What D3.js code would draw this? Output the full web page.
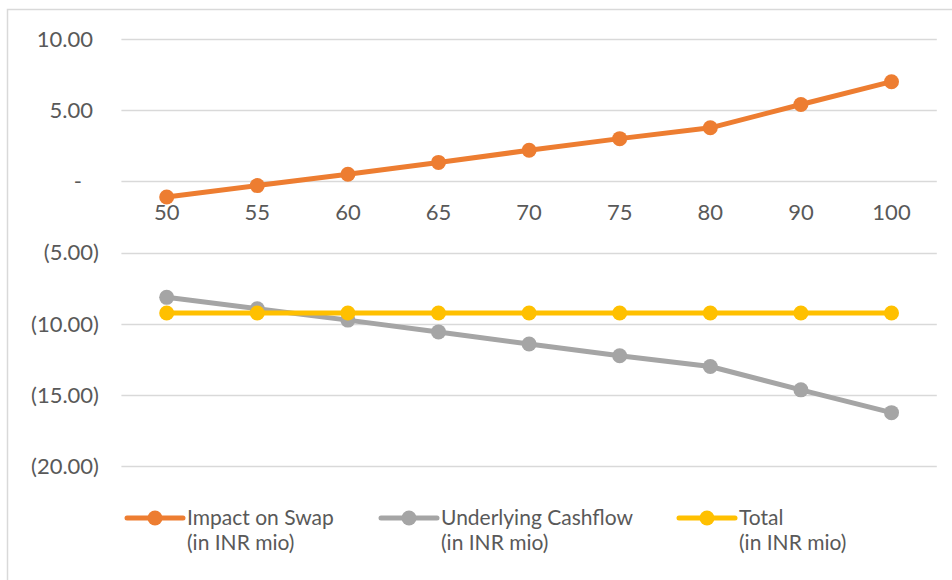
<!DOCTYPE html>
<html><head><meta charset="utf-8">
<script src="https://cdn.jsdelivr.net/npm/d3@7"></script>
<style>
html,body{margin:0;padding:0;background:#fff;}
svg{display:block;}
text{font-family:Lato,"Open Sans",sans-serif;fill:#595959;}
</style></head>
<body>
<svg id="chart" width="952" height="580"></svg>
<script>
const categories = ["50","55","60","65","70","75","80","90","100"];
const swapValues = [-1.10,-0.30,0.50,1.33,2.18,3.00,3.76,5.40,7.00];
const underlyingValues = [-8.15,-8.95,-9.75,-10.58,-11.43,-12.25,-13.01,-14.65,-16.25];
const totalValues = [-9.25,-9.25,-9.25,-9.25,-9.25,-9.25,-9.25,-9.25,-9.25];
const yTicks = [10,5,0,-5,-10,-15,-20];
const seriesNames = [["Impact on Swap","(in INR mio)"],["Underlying Cashflow","(in INR mio)"],["Total","(in INR mio)"]];
const seriesColors = ["#ED7D31","#A5A5A5","#FFC000"];

const series = [swapValues, underlyingValues, totalValues].map((v,i)=>({name:seriesNames[i], color:seriesColors[i], values:v}));

const svg = d3.select("#chart");
// outer chart border
svg.append("rect").attr("x",7.5).attr("y",9.5).attr("width",980).attr("height",620)
  .attr("fill","none").attr("stroke","#d9d9d9").attr("stroke-width",1.5);

const x = d3.scalePoint().domain(categories).range([121.4,936.8]).padding(0.5);
const y = d3.scaleLinear().domain([-20,10]).range([466,39]);

// gridlines
svg.append("g").selectAll("line").data(yTicks).join("line")
  .attr("x1",121.4).attr("x2",936.8)
  .attr("y1",d=>Math.round(y(d))+0.5).attr("y2",d=>Math.round(y(d))+0.5)
  .attr("stroke","#d9d9d9").attr("stroke-width",1.5);

// y axis labels
const fmt = d => d===0 ? "-" : (d<0 ? "("+d3.format(".2f")(-d)+")" : d3.format(".2f")(d));
svg.append("g").selectAll("text").data(yTicks).join("text")
  .attr("x",d=> d<0 ? 99 : (d===0 ? 82 : 93))
  .attr("y",d=>y(d)).attr("dy","0.36em")
  .attr("text-anchor","end").style("font-size","22px")
  .text(fmt);

// x axis labels
svg.append("g").selectAll("text").data(categories).join("text")
  .attr("x",d=>x(d)).attr("y",y(0)+31).attr("dy","0.36em")
  .attr("text-anchor","middle").style("font-size","22px")
  .text(d=>d);

const line = d3.line().x((d,i)=>x(categories[i])).y(d=>y(d));
series.forEach(s=>{
  const g = svg.append("g");
  g.append("path").datum(s.values).attr("d",line)
    .attr("fill","none").attr("stroke",s.color).attr("stroke-width",5)
    .attr("stroke-linejoin","round").attr("stroke-linecap","round");
  g.selectAll("circle").data(s.values).join("circle")
    .attr("cx",(d,i)=>x(categories[i])).attr("cy",d=>y(d)).attr("r",7.5)
    .attr("fill",s.color);
});

// legend
const legX = [127,381,679];
series.forEach((s,i)=>{
  const g = svg.append("g").attr("transform",`translate(${legX[i]},518)`);
  g.append("line").attr("x1",0).attr("x2",56).attr("y1",0).attr("y2",0)
    .attr("stroke",s.color).attr("stroke-width",5).attr("stroke-linecap","round");
  g.append("circle").attr("cx",28).attr("cy",0).attr("r",7.5).attr("fill",s.color);
  g.append("text").attr("x",60).attr("y",7).style("font-size","21px").text(s.name[0]);
  g.append("text").attr("x",60).attr("y",32).style("font-size","21px").text(s.name[1]);
});
</script>
</body></html>
